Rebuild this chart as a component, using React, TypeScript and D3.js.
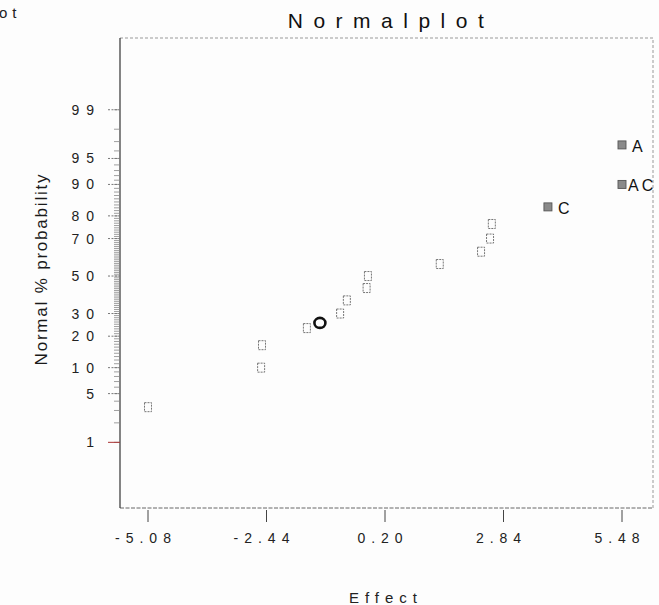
import React, { useEffect, useRef } from 'react'
import * as d3 from 'd3'

// effects sorted ascending, with their normal % probability
const effects = [-5.08, -2.56, -2.54, -1.54, -0.8, -0.65, -0.21, -0.18, 1.42, 2.34, 2.54, 2.58, 3.83, 5.48, 5.48];
const probs = [3.33, 10, 16.67, 23.33, 30, 36.67, 43.33, 50, 56.67, 63.33, 70, 76.67, 83.33, 90, 96.67];
const labels = ['', '', '', '', '', '', '', '', '', '', '', '', 'C', 'AC', 'A'];
const chosen = [false, false, false, false, false, false, false, false, false, false, false, false, true, true, true];

// the bold ring next to the 4th point
const ringEffect = [-1.25];
const ringProb = [25.6];

const xTicks = [-5.08, -2.44, 0.2, 2.84, 5.48];
const yTicks = [1, 5, 10, 20, 30, 50, 70, 80, 90, 95, 99];
const minorTicks = d3.range(1, 100);

// inverse normal cdf (Acklam)
function probit(p: number) {
  const a = [-39.69683028665376, 220.9460984245205, -275.9285104469687, 138.357751867269, -30.66479806614716, 2.506628277459239];
  const b = [-54.47609879822406, 161.5858368580409, -155.6989798598866, 66.80131188771972, -13.28068155288572];
  const c = [-0.007784894002430293, -0.3223964580411365, -2.400758277161838, -2.549732539343734, 4.374664141464968, 2.938163982698783];
  const d = [0.007784695709041462, 0.3224671290700398, 2.445134137142996, 3.754408661907416];
  const low = 0.02425;
  if (p < low) {
    const q = Math.sqrt(-2 * Math.log(p));
    return (((((c[0] * q + c[1]) * q + c[2]) * q + c[3]) * q + c[4]) * q + c[5]) / ((((d[0] * q + d[1]) * q + d[2]) * q + d[3]) * q + 1);
  }
  if (p > 1 - low) {
    const q = Math.sqrt(-2 * Math.log(1 - p));
    return -(((((c[0] * q + c[1]) * q + c[2]) * q + c[3]) * q + c[4]) * q + c[5]) / ((((d[0] * q + d[1]) * q + d[2]) * q + d[3]) * q + 1);
  }
  const q = p - 0.5;
  const r = q * q;
  return (((((a[0] * r + a[1]) * r + a[2]) * r + a[3]) * r + a[4]) * r + a[5]) * q / (((((b[0] * r + b[1]) * r + b[2]) * r + b[3]) * r + b[4]) * r + 1);
}

const W = 659;
const H = 605;
const frame = { left: 120, right: 653, top: 38, bottom: 508 };
const font = '"Liberation Sans", Arial, sans-serif';

export default function App() {
  const ref = useRef<SVGSVGElement>(null);

  useEffect(() => {
    const svg = d3.select(ref.current);
    svg.selectAll('*').remove();

    const x = d3.scaleLinear().domain([-5.08, 5.48]).range([148, 622]);
    const z = d3.scaleLinear().domain([-3.245, 3.33]).range([frame.bottom, frame.top]);
    const y = (p: number) => z(probit(p / 100));

    svg.append('rect').attr('width', W).attr('height', H).attr('fill', '#fdfdfd');

    //stray text from the page edge
    svg.append('text')
      .attr('x', -1).attr('y', 18)
      .attr('font-family', font).attr('font-size', 15)
      .attr('letter-spacing', 5).attr('fill', '#222')
      .text('ot');

    //title
    svg.append('text')
      .attr('x', 386 + 5).attr('y', 28)
      .attr('text-anchor', 'middle')
      .attr('font-family', font).attr('font-size', 21)
      .attr('letter-spacing', 10.5).attr('fill', '#111')
      .text('Normalplot');

    //frame
    svg.append('path')
      .attr('d', `M${frame.left},${frame.top}H${frame.right}V${frame.bottom}`)
      .attr('fill', 'none').attr('stroke', '#999')
      .attr('stroke-dasharray', '3,2');
    svg.append('line')
      .attr('x1', frame.left).attr('x2', frame.right)
      .attr('y1', frame.bottom).attr('y2', frame.bottom)
      .attr('stroke', '#666').attr('stroke-dasharray', '4,1.5');
    svg.append('line')
      .attr('x1', frame.left).attr('x2', frame.left)
      .attr('y1', frame.top).attr('y2', frame.bottom)
      .attr('stroke', '#333').attr('stroke-width', 1.2);

    //y minor ticks
    svg.selectAll('.minor')
      .data(minorTicks)
      .enter()
      .append('line')
      .attr('class', 'minor')
      .attr('x1', frame.left - 6).attr('x2', frame.left)
      .attr('y1', d => y(d)).attr('y2', d => y(d))
      .attr('stroke', '#888').attr('stroke-width', 0.8);

    //y major ticks + labels
    svg.selectAll('.ytick')
      .data(yTicks)
      .enter()
      .append('line')
      .attr('class', 'ytick')
      .attr('x1', frame.left - 12).attr('x2', frame.left)
      .attr('y1', d => y(d)).attr('y2', d => y(d))
      .attr('stroke', d => (d === 1 ? '#a33' : '#777'))
      .attr('stroke-dasharray', d => (d === 1 ? null : '2,1.5'));
    svg.selectAll('.ylabel')
      .data(yTicks)
      .enter()
      .append('text')
      .attr('class', 'ylabel')
      .attr('x', 94 + 7).attr('y', d => y(d) + 5)
      .attr('text-anchor', 'end')
      .attr('font-family', font).attr('font-size', 14)
      .attr('letter-spacing', 7).attr('fill', '#222')
      .text(d => d);

    //x ticks + labels
    svg.selectAll('.xtick')
      .data(xTicks)
      .enter()
      .append('line')
      .attr('class', 'xtick')
      .attr('x1', d => x(d)).attr('x2', d => x(d))
      .attr('y1', frame.bottom + 2).attr('y2', frame.bottom + 14)
      .attr('stroke', '#444');
    svg.selectAll('.xlabel')
      .data(xTicks)
      .enter()
      .append('text')
      .attr('class', 'xlabel')
      .attr('x', d => x(d) - 2).attr('y', 543)
      .attr('text-anchor', 'middle')
      .attr('font-family', font).attr('font-size', 14)
      .attr('letter-spacing', 6).attr('fill', '#222')
      .text(d => d.toFixed(2));

    //axis titles
    svg.append('text')
      .attr('x', 381 + 5).attr('y', 603)
      .attr('text-anchor', 'middle')
      .attr('font-family', font).attr('font-size', 15)
      .attr('letter-spacing', 6).attr('fill', '#222')
      .text('Effect');
    svg.append('text')
      .attr('transform', 'translate(47,269) rotate(-90)')
      .attr('text-anchor', 'middle')
      .attr('font-family', font).attr('font-size', 17)
      .attr('letter-spacing', 1.8).attr('fill', '#1a1a1a')
      .text('Normal % probability');

    //points
    const pts = effects.map((e, i) => ({ e, p: probs[i], label: labels[i], chosen: chosen[i] }));
    svg.selectAll('.pt')
      .data(pts)
      .enter()
      .append('rect')
      .attr('class', 'pt')
      .attr('x', d => x(d.e) - (d.chosen ? 4 : 3.5))
      .attr('y', d => y(d.p) - (d.chosen ? 4 : 4.5))
      .attr('width', d => (d.chosen ? 8 : 7))
      .attr('height', d => (d.chosen ? 8 : 9))
      .attr('fill', d => (d.chosen ? '#8a8a8a' : 'none'))
      .attr('stroke', d => (d.chosen ? '#555' : '#666'))
      .attr('stroke-width', 0.9)
      .attr('stroke-dasharray', d => (d.chosen ? null : '2,1'));

    svg.selectAll('.ptlabel')
      .data(pts.filter(d => d.label))
      .enter()
      .append('text')
      .attr('class', 'ptlabel')
      .attr('x', d => x(d.e) + (d.label.length > 1 ? 6 : 10)).attr('y', d => y(d.p) + 7)
      .attr('font-family', font).attr('font-size', 16)
      .attr('letter-spacing', 3).attr('fill', '#111')
      .text(d => d.label);

    //ring marker
    svg.selectAll('.ring')
      .data(ringEffect)
      .enter()
      .append('ellipse')
      .attr('class', 'ring')
      .attr('cx', d => x(d)).attr('cy', (d, i) => y(ringProb[i]))
      .attr('rx', 5.5).attr('ry', 5)
      .attr('fill', 'none').attr('stroke', '#111').attr('stroke-width', 2.6);
  }, []);

  return (
    <svg
      ref={ref}
      width={W}
      height={H}
      style={{ position: 'absolute', left: 0, top: 0 }}
    />
  );
}
